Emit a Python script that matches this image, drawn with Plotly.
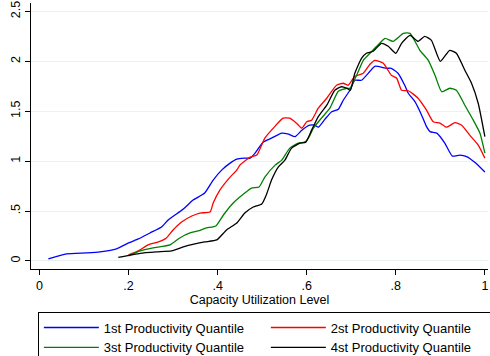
import plotly.graph_objects as go

q1_x = [0.02, 0.061, 0.106, 0.136, 0.173, 0.20, 0.222, 0.248, 0.274, 0.289, 0.323, 0.345, 0.371, 0.39, 0.409,
        0.428, 0.443, 0.46, 0.473, 0.484, 0.502, 0.521, 0.544, 0.559, 0.574, 0.589, 0.607, 0.618, 0.626, 0.641,
        0.656, 0.671, 0.682, 0.697, 0.708, 0.723, 0.742, 0.753, 0.779, 0.79, 0.805, 0.82, 0.828, 0.843, 0.858,
        0.869, 0.877, 0.892, 0.91, 0.927, 0.944, 0.959, 0.978, 1.0]
q1_y = [0.02, 0.07, 0.08, 0.09, 0.12, 0.18, 0.22, 0.28, 0.34, 0.41, 0.52, 0.61, 0.68, 0.81, 0.91,
        0.98, 1.02, 1.03, 1.03, 1.08, 1.19, 1.23, 1.28, 1.27, 1.245, 1.31, 1.36, 1.36, 1.34, 1.42,
        1.495, 1.52, 1.61, 1.71, 1.81, 1.81, 1.90, 1.95, 1.93, 1.93, 1.88, 1.76, 1.68, 1.595, 1.46,
        1.345, 1.295, 1.28, 1.18, 1.05, 1.06, 1.045, 0.985, 0.89]

q2_x = [0.20, 0.222, 0.244, 0.267, 0.285, 0.30, 0.319, 0.342, 0.36, 0.383, 0.39, 0.405, 0.428, 0.443, 0.45,
        0.473, 0.488, 0.506, 0.525, 0.547, 0.562, 0.577, 0.589, 0.60, 0.611, 0.626, 0.645, 0.667, 0.682, 0.693,
        0.708, 0.727, 0.742, 0.753, 0.772, 0.79, 0.802, 0.813, 0.828, 0.85, 0.869, 0.884, 0.899, 0.914, 0.933,
        0.948, 0.966, 0.985, 1.0]
q2_y = [0.06, 0.10, 0.16, 0.19, 0.23, 0.31, 0.39, 0.45, 0.48, 0.49, 0.58, 0.71, 0.84, 0.91, 0.96,
        1.04, 1.06, 1.23, 1.33, 1.43, 1.43, 1.38, 1.33, 1.395, 1.41, 1.53, 1.63, 1.76, 1.78, 1.76,
        1.85, 1.88, 1.97, 2.01, 1.98, 1.86, 1.83, 1.71, 1.705, 1.63, 1.51, 1.395, 1.38, 1.34, 1.385,
        1.36, 1.26, 1.16, 1.03]

q3_x = [0.20, 0.226, 0.255, 0.293, 0.315, 0.338, 0.356, 0.375, 0.396, 0.413, 0.435, 0.461, 0.476, 0.493, 0.506,
        0.529, 0.544, 0.562, 0.581, 0.596, 0.605, 0.615, 0.633, 0.652, 0.671, 0.69, 0.697, 0.712, 0.727, 0.742,
        0.757, 0.776, 0.794, 0.817, 0.832, 0.854, 0.873, 0.888, 0.903, 0.921, 0.936, 0.955, 0.974, 0.989, 1.0]
q3_y = [0.05, 0.10, 0.13, 0.16, 0.23, 0.28, 0.30, 0.33, 0.35, 0.46, 0.58, 0.68, 0.73, 0.74, 0.84,
        0.96, 1.01, 1.13, 1.18, 1.19, 1.24, 1.33, 1.43, 1.53, 1.70, 1.73, 1.73, 1.86, 2.01, 2.08,
        2.15, 2.23, 2.20, 2.28, 2.28, 2.11, 2.01, 1.86, 1.695, 1.73, 1.71, 1.56, 1.41, 1.28, 1.08]

q4_x = [0.177, 0.226, 0.263, 0.297, 0.323, 0.349, 0.371, 0.398, 0.42, 0.443, 0.461, 0.48, 0.499, 0.51, 0.521,
        0.536, 0.551, 0.566, 0.585, 0.598, 0.611, 0.626, 0.645, 0.663, 0.678, 0.69, 0.698, 0.708, 0.723, 0.734,
        0.749, 0.768, 0.783, 0.80, 0.813, 0.832, 0.85, 0.865, 0.88, 0.90, 0.921, 0.936, 0.955, 0.97, 0.985, 1.0]
q4_y = [0.036, 0.076, 0.09, 0.10, 0.14, 0.17, 0.19, 0.21, 0.31, 0.38, 0.48, 0.54, 0.57, 0.67, 0.81,
        0.94, 1.01, 1.13, 1.18, 1.19, 1.31, 1.445, 1.56, 1.71, 1.745, 1.73, 1.71, 1.88, 2.03, 2.08,
        2.10, 2.18, 2.15, 2.08, 2.18, 2.26, 2.20, 2.25, 2.21, 2.00, 2.11, 2.08, 1.91, 1.78, 1.58, 1.245]

names = ["1st Productivity Quantile", "2st Productivity Quantile",
         "3st Productivity Quantile", "4st Productivity Quantile"]
colors = ["#0000ff", "#ff0000", "#008000", "#000000"]
xtick_vals = [0, 0.2, 0.4, 0.6, 0.8, 1]
xtick_text = ["0", ".2", ".4", ".6", ".8", "1"]
ytick_vals = [0, 0.5, 1, 1.5, 2, 2.5]
ytick_text = ["0", ".5", "1", "1.5", "2", "2.5"]

FONT = "Liberation Sans, Arial, sans-serif"

fig = go.Figure()
for xs, ys, nm, c in zip([q1_x, q2_x, q3_x, q4_x], [q1_y, q2_y, q3_y, q4_y], names, colors):
    fig.add_trace(go.Scatter(x=xs, y=ys, mode="lines", name=nm,
                             line=dict(color=c, width=1.3, shape="spline", smoothing=0.5)))

fig.update_layout(
    width=490, height=356,
    margin=dict(l=31, r=2, t=3, b=87, autoexpand=False),
    paper_bgcolor="white", plot_bgcolor="white",
    font=dict(family=FONT, size=12.5, color="black"),
    xaxis=dict(range=[-0.019, 1.007], tickvals=xtick_vals, ticktext=xtick_text,
               showgrid=False, zeroline=False, showline=True, linecolor="black", linewidth=1,
               ticks="outside", ticklen=5, tickcolor="black",
               title=dict(text="Capacity Utilization Level", standoff=1, font=dict(size=12.5))),
    yaxis=dict(range=[-0.081, 2.584], tickvals=ytick_vals, ticktext=ytick_text, tickangle=-90,
               showgrid=True, gridcolor="#eaf2f3", gridwidth=1, zeroline=False,
               showline=True, linecolor="black", linewidth=1,
               ticks="outside", ticklen=5, tickcolor="black"),
    legend=dict(orientation="h", x=0.015, xanchor="left", y=-0.16, yanchor="top",
                bordercolor="black", borderwidth=1, bgcolor="white",
                entrywidth=157, entrywidthmode="pixels", itemwidth=55,
                font=dict(size=13), tracegroupgap=0),
    showlegend=True,
)

fig.write_html("out.html")
